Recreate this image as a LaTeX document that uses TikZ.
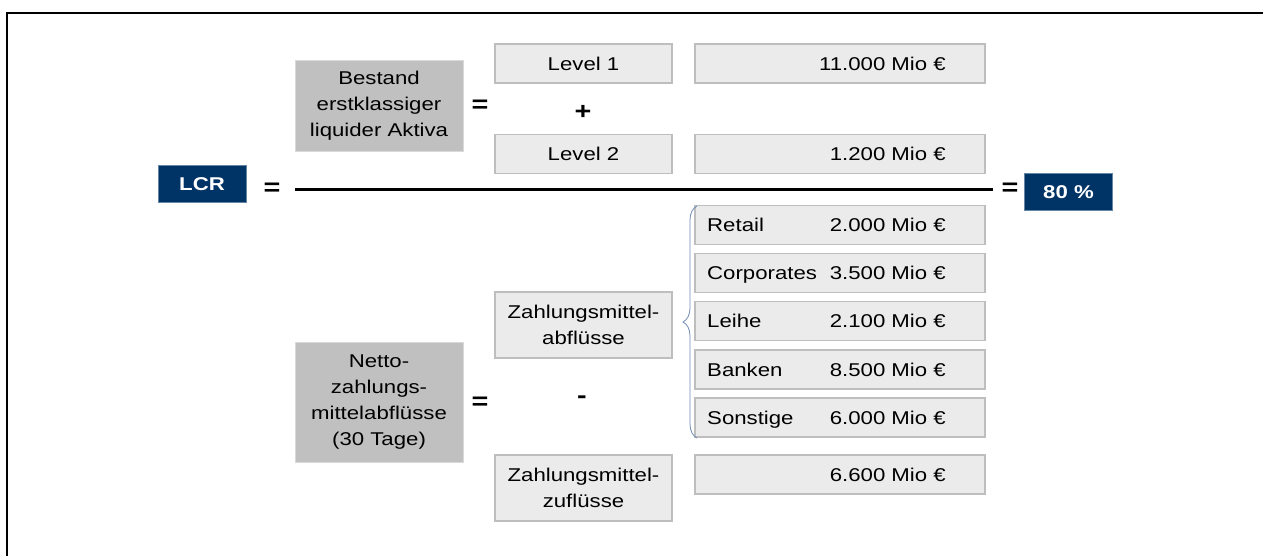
\documentclass[tikz,border=0pt]{standalone}
\usepackage{fontspec}
\setmainfont[FakeStretch=1.2]{Liberation Sans}
\usetikzlibrary{positioning}
\usetikzlibrary{decorations.pathreplacing}
\definecolor{lcrblue}{RGB}{0,51,102}
\definecolor{boxgray}{RGB}{235,235,235}
\definecolor{boxline}{RGB}{190,190,190}
\definecolor{termgray}{RGB}{192,192,192}
\definecolor{bracecol}{RGB}{110,140,180}
\tikzset{
  txt/.style = {font=\fontsize{18.5}{26}\selectfont, inner sep=0},
  line/.style = {txt, text height=13.5, text depth=0},
  lbox/.style = {txt, fill=boxgray, draw=boxline, line width=1.3, minimum width=177, minimum height=39, align=center},
  vbox/.style = {lbox, minimum width=290},
  tbox/.style = {txt, fill=termgray, draw=termgray!60!white, line width=0.8, minimum width=168, align=center},
  res/.style = {line, font=\fontsize{18.5}{26}\selectfont\bfseries, text=white, fill=lcrblue, draw=lcrblue!60!white, line width=0.8, minimum height=37},
  op/.style = {txt, font=\fontsize{24}{26}\selectfont\bfseries},
}

\begin{document}
\begin{tikzpicture}[x=1pt, y=-1pt]
    \useasboundingbox (0,0) rectangle (1263,556);
    \draw[line width=2.2] (7,556) -- (7,13) -- (1263,13);

    % numerator
    \node[tbox, minimum height=91] (bestand) at (379,105.5) {Bestand\\erstklassiger\\liquider Aktiva};
    \node[op] (eqTop) at (480,106) {=};
    \node[lbox, line] (lvlA) at (583.5,63.5) {Level 1};
    \node[op] (plus) at (583,112) {+};
    \node[lbox, line] (lvlB) at (583.5,154) {Level 2};
    \node[vbox] (valA) at (840,63.5) {};
    \node[vbox] (valB) at (840,154) {};
    \node[line, anchor=east] (valAtxt) at (946,63.5) {11.000 Mio €};
    \node[line, anchor=east] (valBtxt) at (946,154) {1.200 Mio €};

    % fraction
    \node[res, minimum width=88] (lcr) at (202,184) {LCR};
    \node[op] (eqLcr) at (272,189.5) {=};
    \coordinate (barL) at (295,189.5);
    \coordinate (barR) at (993,189.5);
    \draw[line width=2.6] (barL) -- (barR);
    \node[op] (eqRes) at (1010,189.5) {=};
    \node[res, minimum width=87.5] (result) at (1068.5,191.5) {80 \%};

    % denominator
    \node[tbox, minimum height=120] (netto) at (379,402.5) {Netto-\\zahlungs-\\mittelabflüsse\\(30 Tage)};
    \node[op] (eqBottom) at (480,403) {=};
    \node[lbox, minimum height=66] (abfl) at (583.5,325) {Zahlungsmittel-\\abflüsse};
    \node[op] (minus) at (582,400) {-};
    \node[lbox, minimum height=66] (zufl) at (583.5,488) {Zahlungsmittel-\\zuflüsse};

    \node[vbox] (retail) at (840,225) {};
    \node[line, anchor=west] (retailLbl) at (707,225) {Retail};
    \node[line, anchor=east] (retailVal) at (946,225) {2.000 Mio €};
    \node[vbox] (corp) at (840,273) {};
    \node[line, anchor=west] (corpLbl) at (707,273) {Corporates};
    \node[line, anchor=east] (corpVal) at (946,273) {3.500 Mio €};
    \node[vbox] (leihe) at (840,321) {};
    \node[line, anchor=west] (leiheLbl) at (707,321) {Leihe};
    \node[line, anchor=east] (leiheVal) at (946,321) {2.100 Mio €};
    \node[vbox] (banken) at (840,369.5) {};
    \node[line, anchor=west] (bankenLbl) at (707,369.5) {Banken};
    \node[line, anchor=east] (bankenVal) at (946,369.5) {8.500 Mio €};
    \node[vbox] (sonst) at (840,417.5) {};
    \node[line, anchor=west] (sonstLbl) at (707,417.5) {Sonstige};
    \node[line, anchor=east] (sonstVal) at (946,417.5) {6.000 Mio €};
    \node[vbox] (zuflVal) at (840,474.5) {};
    \node[line, anchor=east] (zuflValtxt) at (946,474.5) {6.600 Mio €};

    \coordinate (braceB) at (697,438);
    \coordinate (braceT) at (697,206);
    \draw[bracecol, line width=0.8, decorate, decoration={brace, amplitude=14}] (braceB) -- (braceT);
\end{tikzpicture}
\end{document}
